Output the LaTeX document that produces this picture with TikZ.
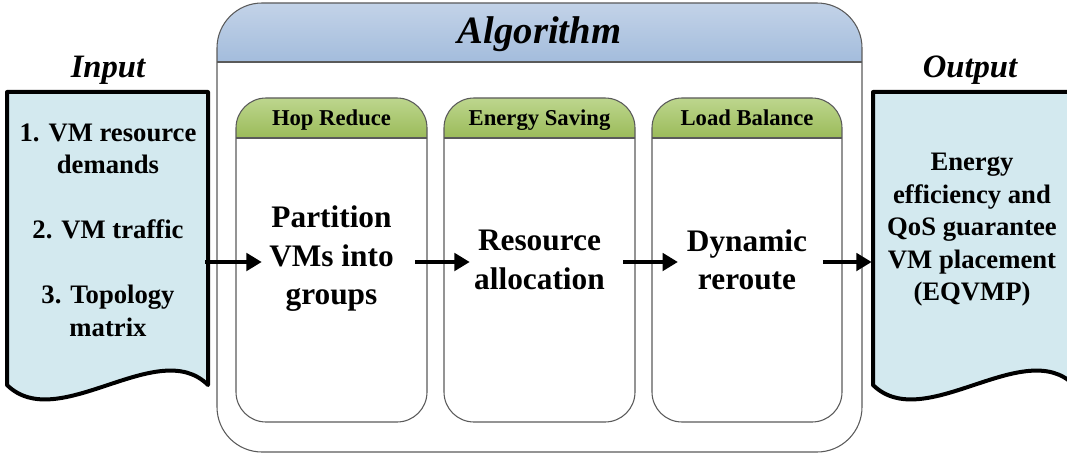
\documentclass[tikz,border=0pt]{standalone}
\usepackage{fontspec}
\setmainfont{Liberation Serif}
\usetikzlibrary{arrows.meta}

\definecolor{docfill}{HTML}{D3E9EF}
\definecolor{bandtop}{HTML}{C3D3E8}
\definecolor{bandbot}{HTML}{A3BCDC}
\definecolor{greentop}{HTML}{BDD68E}
\definecolor{greenbot}{HTML}{9BBB59}
\definecolor{frame}{HTML}{5A5A5A}

\begin{document}
\begin{tikzpicture}[x=0.75pt,y=-0.75pt,
  framebox/.style={draw=frame,line width=0.8pt},
  docbox/.style={draw=black,line width=3pt,fill=docfill,line join=round},
  conn/.style={line width=3.6pt,-{Triangle[length=11.5pt,width=13pt]}},
  doctext/.style={font=\fontsize{20}{24.4}\selectfont\bfseries,align=center,inner sep=0pt},
  maintext/.style={font=\fontsize{23.5}{28.9}\selectfont\bfseries,align=center,inner sep=0pt},
  hdrtext/.style={font=\fontsize{17}{20}\selectfont\bfseries,inner sep=0pt,anchor=base},
  titletext/.style={font=\fontsize{24.5}{28}\selectfont\bfseries\itshape,inner sep=0pt},
  stagebox/.style={rectangle,minimum width=143.25pt,minimum height=243pt,inner sep=0pt},
]
\useasboundingbox (0,0) rectangle (1067,453);

% ---- Algorithm frame ----
\begin{scope}
  \clip[rounded corners=33.75pt] (217,3) rectangle (862,452);
  \shade[top color=bandtop,bottom color=bandbot] (217,3) rectangle (862,62);
\end{scope}
\draw[framebox] (217,62) -- (862,62);
\draw[framebox,rounded corners=33.75pt] (217,3) rectangle (862,452);
\node[font=\fontsize{29}{32}\selectfont\bfseries\itshape,inner sep=0pt] (algo) at (539.5,34) {Algorithm};

% ---- three stages ----
\foreach \nm/\xl/\xr/\hd in {b1/236/427/Hop Reduce, b2/444/635/Energy Saving, b3/652/842/Load Balance}{
  \begin{scope}
    \clip[rounded corners=22.5pt] (\xl,98) rectangle (\xr,422);
    \shade[top color=greentop,bottom color=greenbot] (\xl,98) rectangle (\xr,138);
  \end{scope}
  \draw[framebox] (\xl,138) -- (\xr,138);
  \draw[framebox,rounded corners=22.5pt] (\xl,98) rectangle (\xr,422);
  \node[stagebox] (\nm) at ({(\xl+\xr)/2},262) {};
  \node[hdrtext] (\nm h) at ({(\xl+\xr)/2},125) {\hd};
}

\node[maintext] (p1) at (331.5,259) {Partition\\VMs into\\groups};
\node[maintext] (p2) at (539.5,260) {Resource\\allocation};
\node[maintext] (p3) at (747,260) {Dynamic\\reroute};

% ---- input document ----
\draw[docbox] (7,385) -- (7,92) -- (208,92) -- (208,385)
  .. controls (158,335) and (58,435) .. cycle;
\node[titletext] (intitle) at (108,70) {Input};
\node[coordinate] (inR) at (208,262) {};
\node[doctext] (intext) at (108,230) {1. VM resource\\demands\\\mbox{}\\2. VM traffic\\\mbox{}\\3. Topology\\matrix};

% ---- output document ----
\draw[docbox] (873,385) -- (873,92) -- (1074,92) -- (1074,385)
  .. controls (1024,335) and (924,435) .. cycle;
\node[titletext] (outtitle) at (970,70) {Output};
\node[coordinate] (outL) at (873,262) {};
\node[doctext] (outtext) at (972,230) {Energy\\efficiency and\\QoS guarantee\\VM placement\\(EQVMP)};

% ---- flow arrows ----
\draw[conn] ([xshift=-2pt]inR) -- ([xshift=19.5pt]b1.west);
\draw[conn] ([xshift=-9pt]b1.east) -- ([xshift=19.5pt]b2.west);
\draw[conn] ([xshift=-9pt]b2.east) -- ([xshift=20pt]b3.west);
\draw[conn] ([xshift=-15pt]b3.east) -- ([xshift=-1pt]outL);
\end{tikzpicture}
\end{document}
